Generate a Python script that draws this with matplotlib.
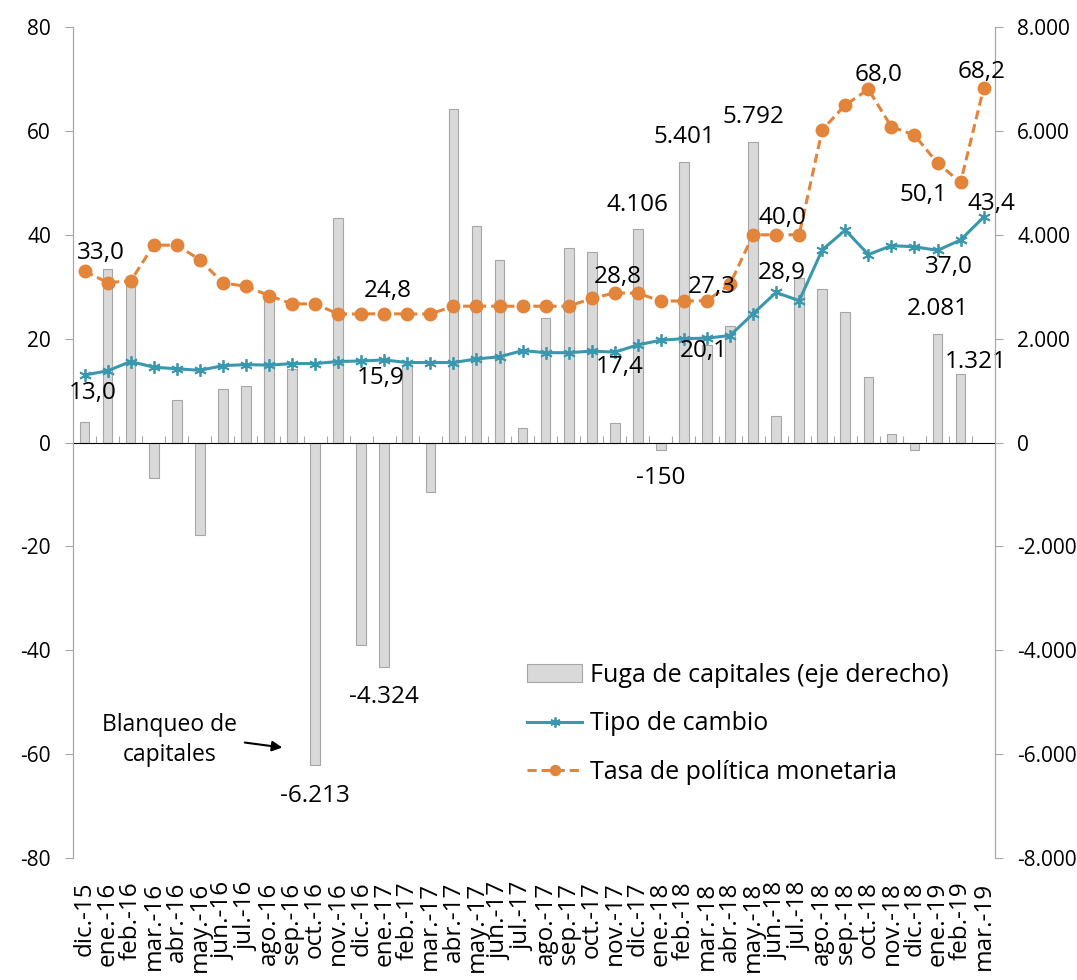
import numpy as np
import matplotlib.pyplot as plt

plt.rcParams['font.family'] = ['Open Sans', 'DejaVu Sans']
plt.rcParams['axes.unicode_minus'] = False

# Datos
meses = ['dic.-15', 'ene.-16', 'feb.-16', 'mar.-16', 'abr.-16', 'may.-16', 'jun.-16', 'jul.-16',
         'ago.-16', 'sep.-16', 'oct.-16', 'nov.-16', 'dic.-16', 'ene.-17', 'feb.-17', 'mar.-17',
         'abr.-17', 'may.-17', 'jun.-17', 'jul.-17', 'ago.-17', 'sep.-17', 'oct.-17', 'nov.-17',
         'dic.-17', 'ene.-18', 'feb.-18', 'mar.-18', 'abr.-18', 'may.-18', 'jun.-18', 'jul.-18',
         'ago.-18', 'sep.-18', 'oct.-18', 'nov.-18', 'dic.-18', 'ene.-19', 'feb.-19', 'mar.-19']

fuga = [400, 3350, 3100, -690, 810, -1790, 1040, 1080, 2850, 1420,
        -6213, 4330, -3900, -4324, 1500, -960, 6420, 4170, 3520, 270,
        2400, 3750, 3670, 370, 4106, -150, 5401, 1870, 2250, 5792,
        520, 3170, 2960, 2520, 1270, 170, -150, 2081, 1321, np.nan]

tipo_cambio = [13.0, 13.8, 15.6, 14.5, 14.2, 13.9, 14.8, 15.0, 14.9, 15.2,
               15.2, 15.6, 15.7, 15.9, 15.4, 15.4, 15.4, 16.1, 16.5, 17.7,
               17.3, 17.3, 17.6, 17.4, 18.8, 19.7, 20.0, 20.1, 20.6, 24.8,
               28.9, 27.3, 37.1, 40.9, 36.2, 37.9, 37.7, 37.0, 39.0, 43.4]

tasa = [33.0, 30.8, 31.1, 38.0, 38.0, 35.2, 30.7, 30.1, 28.3, 26.7,
        26.7, 24.75, 24.75, 24.8, 24.75, 24.75, 26.25, 26.25, 26.25, 26.25,
        26.25, 26.25, 27.75, 28.8, 28.75, 27.25, 27.25, 27.3, 30.5, 40.0,
        40.0, 40.0, 60.2, 65.0, 68.0, 60.8, 59.2, 53.8, 50.1, 68.2]

# etiquetas: (serie, indice, desplazamiento x px, desplazamiento y px)
etiquetas = [
    ('tasa', 0, 16, 18), ('tc', 0, 8, -18),
    ('tasa', 13, 4, 23), ('tc', 13, -4, -18),
    ('tasa', 23, 3, 16), ('tc', 23, 5, -15),
    ('tasa', 27, 5, 14), ('tc', 27, -3, -13),
    ('tasa', 30, 6, 17), ('tc', 30, 6, 19),
    ('tasa', 34, 10, 14), ('tasa', 38, -37, -13),
    ('tc', 39, 8, 13), ('tasa', 39, -2, 16), ('tc', 37, 11, -17),
    ('fuga', 24, 0, 24), ('fuga', 25, 0, -28), ('fuga', 26, 0, 25),
    ('fuga', 29, 0, 25), ('fuga', 37, 0, 25), ('fuga', 38, 15, 12),
    ('fuga', 10, 0, -31), ('fuga', 13, 0, -30),
]

azul = '#3a97ae'
naranja = '#e2843a'
x = np.arange(len(meses))

fig = plt.figure(figsize=(10.77, 9.80), dpi=100)
ax = fig.add_axes([0.0678, 0.1245, 0.8562, 0.8479])
ax2 = ax.twinx()

barras = ax2.bar(x, fuga, width=0.42, color='#d9d9d9', edgecolor='#a6a6a6', linewidth=0.8,
                 label='Fuga de capitales (eje derecho)')
l1, = ax.plot(x, tipo_cambio, color=azul, lw=2.2, marker=(6, 2, 0), ms=9, mew=1.3,
              label='Tipo de cambio')
l2, = ax.plot(x, tasa, color=naranja, lw=2.2, ls=(0, (3, 1.6)), marker='o', ms=9,
              label='Tasa de política monetaria')

ax.set_zorder(ax2.get_zorder() + 1)
ax.patch.set_visible(False)

ax.set_xlim(-0.5, len(meses) - 0.5)
ax.set_ylim(-80, 80)
ax2.set_ylim(-8000, 8000)
ax.set_yticks(np.arange(-80, 81, 20))
ax2.set_yticks(np.arange(-8000, 8001, 2000))
ax2.set_yticklabels([f'{v:,.0f}'.replace(',', '.') for v in np.arange(-8000, 8001, 2000)])

ax.set_xticks(x)
ax.set_xticklabels(meses, rotation=90, fontsize=17.5)
ax.tick_params(axis='x', length=0, pad=17)
ax.tick_params(axis='y', labelsize=15, length=5.8, color='#a6a6a6', pad=10)
ax2.tick_params(axis='y', labelsize=15, length=5.8, color='#a6a6a6', pad=10)

for a in (ax, ax2):
    for s in ('top', 'bottom'):
        a.spines[s].set_visible(False)
    a.spines['left'].set_color('#a6a6a6')
    a.spines['right'].set_color('#a6a6a6')

# eje horizontal en cero
eje0 = ax.secondary_xaxis(0.5)
eje0.set_xticks(np.arange(0.5, len(meses) - 1, 1))
eje0.set_xticklabels([])
eje0.tick_params(length=5, color='#a6a6a6')
eje0.spines['bottom'].set_color('#a6a6a6')

series = {'tasa': (ax, tasa), 'tc': (ax, tipo_cambio), 'fuga': (ax2, fuga)}
for serie, i, dx, dy in etiquetas:
    eje, vals = series[serie]
    v = vals[i]
    if serie == 'fuga':
        txt = f'{v:,.0f}'.replace(',', '.')
    else:
        txt = f'{v:.1f}'.replace('.', ',')
    eje.annotate(txt, (x[i], v), xytext=(dx * 0.72, dy * 0.72), textcoords='offset points',
                 ha='center', va='center', fontsize=17.5, zorder=10)

ax.text(3.7, -57.3, 'Blanqueo de\ncapitales', ha='center', va='center', fontsize=16.5,
        linespacing=1.3)
ax.annotate('', xy=(8.7, -58.8), xytext=(6.83, -57.7),
            arrowprops=dict(arrowstyle='-|>', color='black', lw=1.5, mutation_scale=15))

ax.legend([barras, l1, l2], [barras.get_label(), l1.get_label(), l2.get_label()],
          loc='upper left', bbox_to_anchor=(0.4924, 0.235), frameon=False, fontsize=18,
          handlelength=2.2, labelspacing=0.95, borderaxespad=0, borderpad=0, handletextpad=0.3,
          markerscale=0.8)

fig.savefig('out.png', dpi=100)
